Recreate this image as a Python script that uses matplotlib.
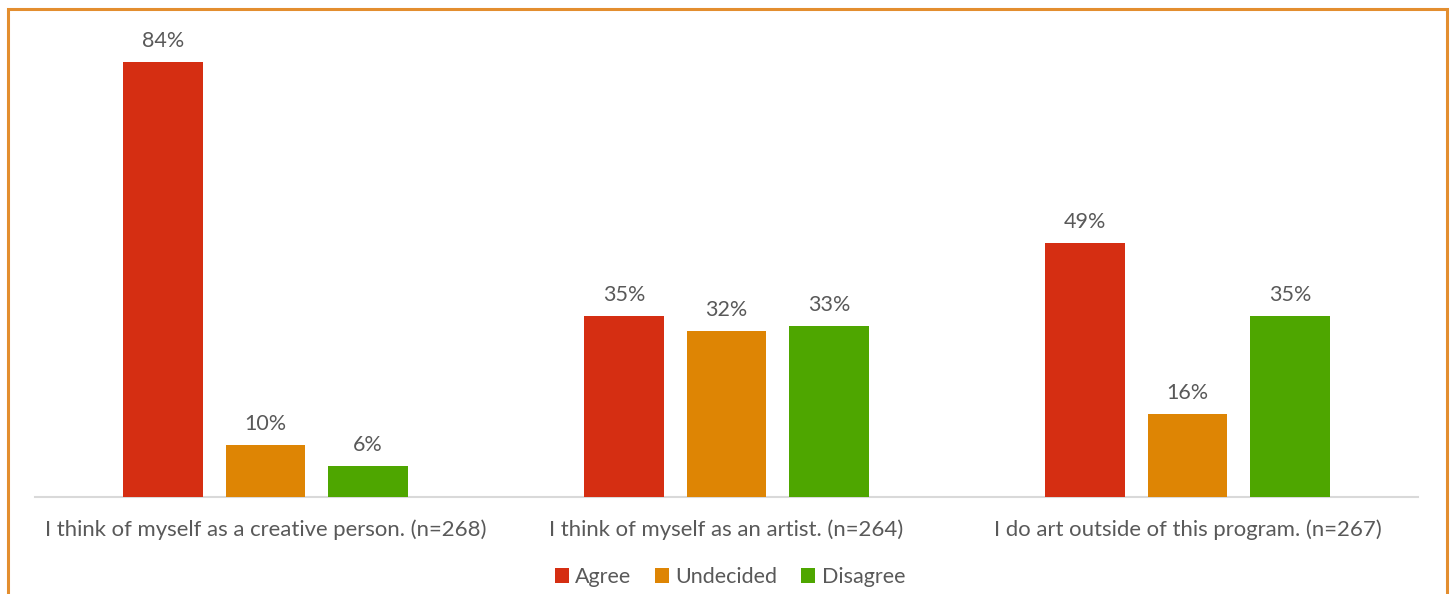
import matplotlib
matplotlib.use("Agg")
import matplotlib.pyplot as plt
from matplotlib.patches import Rectangle, Patch
import numpy as np

categories = [
    "I think of myself as a creative person. (n=268)",
    "I think of myself as an artist. (n=264)",
    "I do art outside of this program. (n=267)",
]
series_names = ["Agree", "Undecided", "Disagree"]
agree = [84, 35, 49]
undecided = [10, 32, 16]
disagree = [6, 33, 35]
colors = ["#D52E12", "#DE8504", "#4EA600"]

plt.rcParams["font.family"] = ["Lato", "DejaVu Sans"]
text_color = "#595959"
fs = 15.5

W, H = 1454, 594
fig = plt.figure(figsize=(W / 100, H / 100), dpi=100)
ax = fig.add_axes([35 / W, 1 - 497 / H, (1418 - 35) / W, (497 - 31) / H])

x = np.arange(len(categories))
width = 0.1735
step = 0.222
for i, (name, vals) in enumerate(zip(series_names, [agree, undecided, disagree])):
    pos = x + (i - 1) * step
    bars = ax.bar(pos, vals, width, color=colors[i], label=name, zorder=3)
    for b, v in zip(bars, vals):
        ax.annotate(f"{v}%", (b.get_x() + b.get_width() / 2, v),
                    xytext=(0, 8), textcoords="offset points",
                    ha="center", va="bottom", fontsize=fs, color=text_color)

ax.set_xlim(-0.5, len(categories) - 0.5)
ax.set_ylim(0, 90)
ax.set_yticks([])
ax.set_xticks(x)
ax.set_xticklabels(categories, fontsize=15.9, color=text_color)
ax.tick_params(axis="x", length=0, pad=16)
for s in ["top", "right", "left"]:
    ax.spines[s].set_visible(False)
ax.spines["bottom"].set_color("#D9D9D9")
ax.spines["bottom"].set_linewidth(1.5)

handles = [Patch(facecolor=c, label=n) for c, n in zip(colors, series_names)]
fig.legend(handles=handles, loc="center", bbox_to_anchor=(730 / W, 1 - 577 / H),
           ncol=3, frameon=False, fontsize=fs, handlelength=0.65, handleheight=0.65,
           handletextpad=0.3, columnspacing=1.1, labelcolor=text_color)

# outer frame
fig.patches.append(Rectangle((8 / W, -0.05), (1447 - 8) / W, (1 - 8.5 / H) + 0.05,
                             transform=fig.transFigure, fill=False,
                             edgecolor="#E38E2F", linewidth=2.2))

fig.savefig("out.png", dpi=100, facecolor="white")
